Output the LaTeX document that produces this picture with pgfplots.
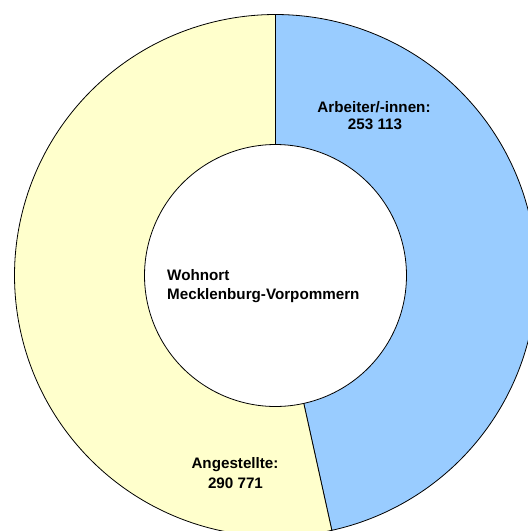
\documentclass[border=0pt]{standalone}
\usepackage{fontspec}
\setmainfont{Liberation Sans}
\usepackage{pgfplots}
\pgfplotsset{compat=1.18}
\definecolor{arbblue}{HTML}{99CCFF}
\definecolor{angyellow}{HTML}{FFFFCC}
\begin{document}
\begin{tikzpicture}
% values in thousands
\pgfmathsetmacro\vArb{253.113}
\pgfmathsetmacro\vAng{290.771}
\pgfmathsetmacro\fArb{\vArb/(\vArb+\vAng)}
\pgfmathsetmacro\aEnd{90-360*\fArb}
\pgfmathsetmacro\aEndB{90-360}
\def\cx{275.5}
\def\cy{275.5}
\def\ro{261}
\def\ri{131}
\begin{axis}[name=ax,
  scale only axis, width=528pt, height=531pt,
  xmin=0, xmax=528, ymin=0, ymax=531, y dir=reverse,
  hide axis, clip=true,
]
\addplot[fill=arbblue, draw=black, line width=0.8pt, domain=90:\aEnd, samples=150, variable=\t]
  ({\cx+\ro*cos(\t)},{\cy-\ro*sin(\t)}) -- (\cx,\cy) -- cycle;
\addplot[fill=angyellow, draw=black, line width=0.8pt, domain=\aEnd:\aEndB, samples=200, variable=\t]
  ({\cx+\ro*cos(\t)},{\cy-\ro*sin(\t)}) -- (\cx,\cy) -- cycle;
\addplot[fill=white, draw=black, line width=0.8pt, domain=0:360, samples=200, variable=\t]
  ({\cx+\ri*cos(\t)},{\cy-\ri*sin(\t)}) -- cycle;
\begin{scope}[every node/.style={font=\fontsize{15.2}{17}\selectfont\bfseries, inner sep=0pt}]
\node[anchor=base] at (axis cs:374,112) {Arbeiter/-innen:};
\node[anchor=base] at (axis cs:375,129) {253 113};
\node[anchor=base west] at (axis cs:167,280) {Wohnort};
\node[anchor=base west] at (axis cs:167,299) {Mecklenburg-Vorpommern};
\node[anchor=base] at (axis cs:235,468) {Angestellte:};
\node[anchor=base] at (axis cs:235.5,488) {290 771};
\end{scope}
\end{axis}
\pgfresetboundingbox
\useasboundingbox (ax.south west) rectangle (ax.north east);
\end{tikzpicture}
\end{document}
